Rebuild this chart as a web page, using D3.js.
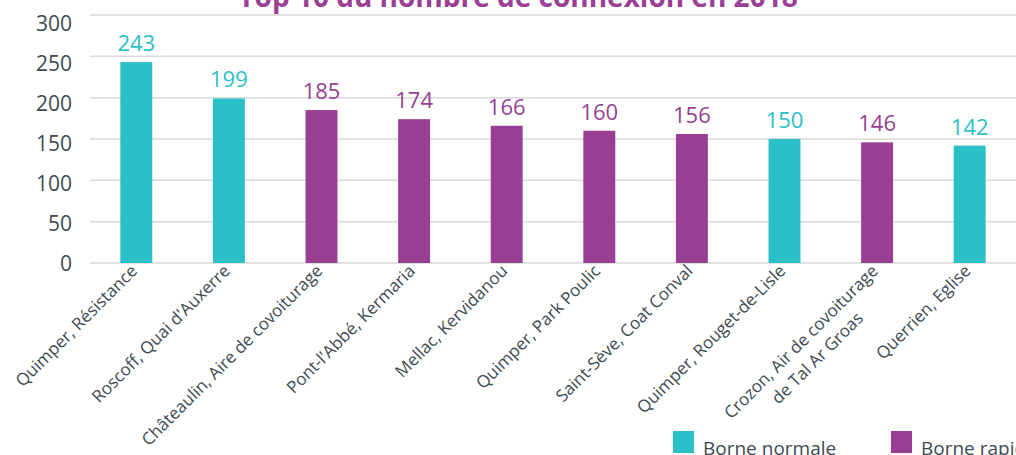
<!DOCTYPE html>
<html>
<head>
<meta charset="utf-8">
<script src="https://cdn.jsdelivr.net/npm/d3@7"></script>
<style>
  html, body { margin: 0; padding: 0; background: #fff; overflow: hidden; }
  svg { display: block; font-family: "Open Sans", "Noto Sans", sans-serif; }
</style>
</head>
<body>
<svg id="chart" width="1016" height="455"></svg>
<script>
// Stations (each label line separated by "\n"), connection counts and charger type
const stations = [
  "Quimper, Résistance",
  "Roscoff, Quai d'Auxerre",
  "Châteaulin, Aire de covoiturage",
  "Pont-l'Abbé, Kermaria",
  "Mellac, Kervidanou",
  "Quimper, Park Poulic",
  "Saint-Sève, Coat Conval",
  "Quimper, Rouget-de-Lisle",
  "Crozon, Air de covoiturage\nde Tal Ar Groas",
  "Querrien, Eglise"
];
const connections = [243, 199, 185, 174, 166, 160, 156, 150, 146, 142];
const chargerType = ["normale", "normale", "rapide", "rapide", "rapide", "rapide", "rapide", "normale", "rapide", "normale"];
const yTicks = [0, 50, 100, 150, 200, 250, 300];
const legendItems = [
  { key: "normale", label: "Borne normale" },
  { key: "rapide", label: "Borne rapide" }
];
const title = "Top 10 du nombre de connexion en 2018";

const colors = { normale: "#2BBFC8", rapide: "#983F94" };
const textColor = "#3E4A51";
const fontStack = '"Open Sans", "Noto Sans", sans-serif';

const svg = d3.select("#chart");

const x = d3.scaleBand()
  .domain(stations)
  .range([90, 1016])
  .paddingInner(0.655)
  .paddingOuter(0.3275);

const y = d3.scaleLinear().domain([0, 300]).range([263, 15]);
// tick labels sit on a slightly tighter scale than the gridlines
const yLabel = d3.scaleLinear().domain([0, 300]).range([263, 23]);

// gridlines
svg.append("g")
  .selectAll("line")
  .data(yTicks)
  .join("line")
  .attr("x1", 90).attr("x2", 1016)
  .attr("y1", d => y(d)).attr("y2", d => y(d))
  .attr("stroke", "#D9D9D9")
  .attr("stroke-width", 1.5);

// y axis labels
const yAxis = svg.append("g")
  .attr("transform", "translate(72,0)")
  .call(d3.axisLeft(yLabel).tickValues(yTicks).tickSize(0).tickPadding(0))
  .attr("font-family", fontStack)
  .attr("font-size", null);
yAxis.select(".domain").remove();
yAxis.selectAll("text")
  .attr("fill", textColor)
  .style("font-size", "21px")
  .attr("dy", "0.35em");

// title
svg.append("text")
  .attr("x", 518).attr("y", 7)
  .attr("text-anchor", "middle")
  .attr("fill", "#9A3F95")
  .style("font-size", "28px")
  .style("font-weight", "700")
  .text(title);

// bars
svg.append("g")
  .selectAll("rect")
  .data(stations)
  .join("rect")
  .attr("x", d => x(d))
  .attr("width", x.bandwidth())
  .attr("y", (d, i) => y(connections[i]))
  .attr("height", (d, i) => y(0) - y(connections[i]))
  .attr("fill", (d, i) => colors[chargerType[i]]);

// value labels
svg.append("g")
  .selectAll("text")
  .data(stations)
  .join("text")
  .attr("x", d => x(d) + x.bandwidth() / 2)
  .attr("y", (d, i) => y(connections[i]) - 11)
  .attr("text-anchor", "middle")
  .attr("fill", (d, i) => colors[chargerType[i]])
  .style("font-size", "22px")
  .text((d, i) => connections[i]);

// category labels, rotated
const catG = svg.append("g");
stations.forEach(s => {
  const cx = x(s) + x.bandwidth() / 2 + 2;
  const g = catG.append("g").attr("transform", `translate(${cx},272) rotate(-45)`);
  const lines = s.split("\n");
  const texts = lines.map((ln, k) => g.append("text")
    .attr("x", 0)
    .attr("y", k * 23)
    .attr("text-anchor", "end")
    .attr("fill", textColor)
    .style("font-size", "17px")
    .text(ln));
  if (texts.length > 1) {
    const w0 = texts[0].node().getComputedTextLength();
    texts.slice(1).forEach(t => {
      const w = t.node().getComputedTextLength();
      t.attr("x", -(w0 - w) / 2);
    });
  }
});

// legend
const legendX = [673, 891];
const legend = svg.append("g");
legendItems.forEach((it, i) => {
  legend.append("rect")
    .attr("x", legendX[i]).attr("y", 431)
    .attr("width", 21).attr("height", 22)
    .attr("fill", colors[it.key]);
  legend.append("text")
    .attr("x", legendX[i] + 30).attr("y", 455)
    .attr("fill", textColor)
    .style("font-size", "19px")
    .text(it.label);
});
</script>
</body>
</html>
